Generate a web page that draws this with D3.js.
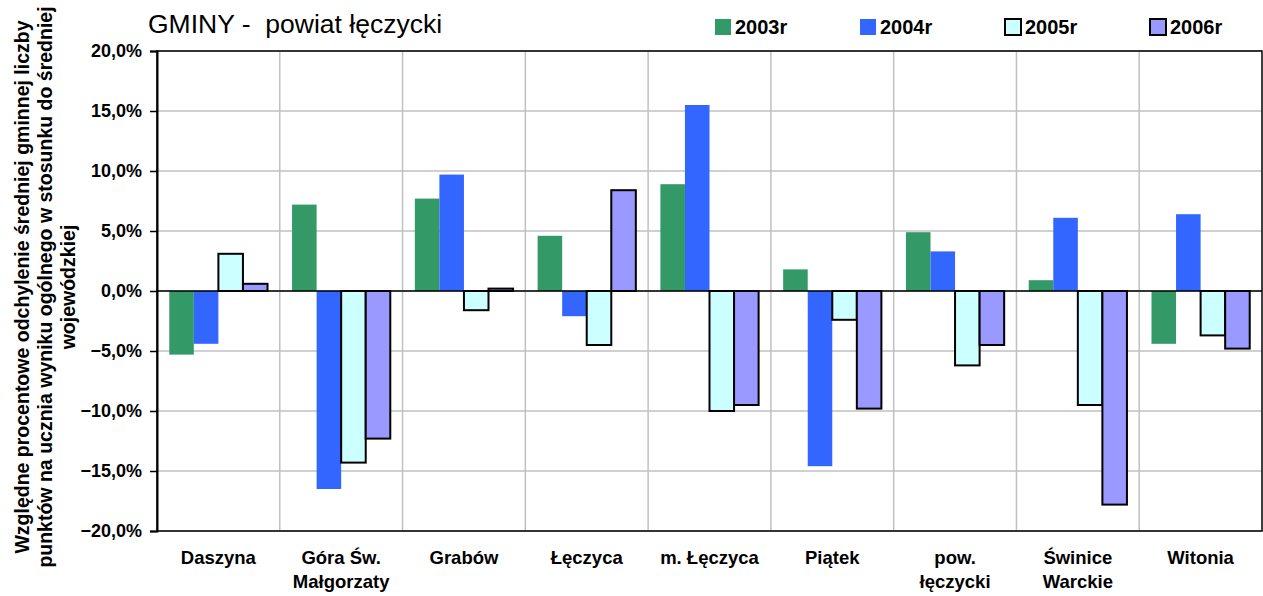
<!DOCTYPE html>
<html>
<head>
<meta charset="utf-8">
<script src="https://cdn.jsdelivr.net/npm/d3@7"></script>
<style>
  body { margin: 0; background: #fff; }
  text { font-family: "Liberation Sans", Arial, sans-serif; }
</style>
</head>
<body>
<div id="plot"></div>
<script>
// data
const categories = ["Daszyna", "Góra Św.\nMałgorzaty", "Grabów", "Łęczyca", "m. Łęczyca",
    "Piątek", "pow.\nłęczycki", "Świnice\nWarckie", "Witonia"];
const series = ["2003r", "2004r", "2005r", "2006r"];
const v2003 = [-5.3, 7.2, 7.7, 4.6, 8.9, 1.8, 4.9, 0.9, -4.4];
const v2004 = [-4.4, -16.5, 9.7, -2.1, 15.5, -14.6, 3.3, 6.1, 6.4];
const v2005 = [3.1, -14.3, -1.6, -4.5, -10.0, -2.4, -6.2, -9.5, -3.7];
const v2006 = [0.6, -12.3, 0.2, 8.4, -9.5, -9.8, -4.5, -17.8, -4.8];
const yTicks = [-20, -15, -10, -5, 0, 5, 10, 15, 20];
const colors = ["#339966", "#3366ff", "#ccffff", "#9999ff"];
const outlined = [false, false, true, true];

const w = 1263;
const h = 596;
const margin = {top: 51, right: 1, bottom: 65, left: 157};

const values = [v2003, v2004, v2005, v2006];

const svg = d3.select("div#plot")
    .append("svg")
    .attr("width", w)
    .attr("height", h);

const xScale = d3.scaleBand()
    .domain(categories)
    .range([margin.left, w - margin.right]);

const xInner = d3.scaleBand()
    .domain(series)
    .range([0, xScale.bandwidth()])
    .paddingInner(0)
    .paddingOuter(0.5);

const yScale = d3.scaleLinear()
    .domain([-20, 20])
    .range([h - margin.bottom, margin.top]);

// grid
const grid = svg.append("g");
grid.selectAll("line.h")
    .data(yTicks)
  .enter().append("line")
    .attr("x1", margin.left)
    .attr("x2", w - margin.right)
    .attr("y1", d => yScale(d))
    .attr("y2", d => yScale(d))
    .attr("stroke", "#c0c0c0")
    .attr("stroke-width", 1.5);
grid.selectAll("line.v")
    .data(categories.slice(1))
  .enter().append("line")
    .attr("x1", d => xScale(d))
    .attr("x2", d => xScale(d))
    .attr("y1", margin.top)
    .attr("y2", h - margin.bottom)
    .attr("stroke", "#c0c0c0")
    .attr("stroke-width", 1.5);

// bars
series.forEach((s, si) => {
  svg.append("g")
    .selectAll("rect")
    .data(values[si])
    .enter().append("rect")
      .attr("x", (d, i) => xScale(categories[i]) + xInner(s))
      .attr("y", d => yScale(Math.max(0, d)))
      .attr("width", xInner.bandwidth())
      .attr("height", d => Math.abs(yScale(d) - yScale(0)))
      .attr("fill", colors[si])
      .attr("stroke", outlined[si] ? "#000" : "none")
      .attr("stroke-width", 2);
});

// zero line and frame
svg.append("line")
    .attr("x1", margin.left)
    .attr("x2", w - margin.right)
    .attr("y1", yScale(0))
    .attr("y2", yScale(0))
    .attr("stroke", "#000")
    .attr("stroke-width", 1.5);

svg.append("rect")
    .attr("x", margin.left)
    .attr("y", margin.top)
    .attr("width", w - margin.left - margin.right)
    .attr("height", h - margin.top - margin.bottom)
    .attr("fill", "none")
    .attr("stroke", "#000")
    .attr("stroke-width", 1.5);

// y axis
const yAxis = d3.axisLeft(yScale)
    .tickValues(yTicks)
    .tickSize(7)
    .tickPadding(8)
    .tickFormat(d => d3.format(".1f")(d).replace(".", ",") + "%");

svg.append("g")
    .attr("class", "yAxis")
    .attr("transform", `translate(${margin.left},0)`)
    .call(yAxis)
    .call(g => g.select(".domain").attr("stroke-width", 2))
    .call(g => g.selectAll(".tick line").attr("stroke-width", 1.5))
    .call(g => g.selectAll("text")
        .attr("font-family", "Liberation Sans, Arial, sans-serif")
        .attr("font-size", 18)
        .attr("font-weight", "bold")
        .attr("fill", "#000"));

// category labels
const catLabels = svg.append("g")
  .selectAll("text")
    .data(categories)
  .enter().append("text")
    .attr("x", d => xScale(d) + xScale.bandwidth() / 2)
    .attr("y", 564)
    .attr("text-anchor", "middle")
    .attr("font-size", 18.5)
    .attr("font-weight", "bold");
catLabels.selectAll("tspan")
    .data(d => d.split("\n"))
  .enter().append("tspan")
    .attr("x", function() { return d3.select(this.parentNode).attr("x"); })
    .attr("dy", (d, i) => i === 0 ? 0 : 24)
    .text(d => d);

// y axis title
const yTitle = ["Względne procentowe odchylenie średniej gminnej liczby",
    "punktów na ucznia wyniku ogólnego w stosunku do średniej",
    "wojewódzkiej"];
svg.append("g")
  .selectAll("text")
    .data(yTitle)
  .enter().append("text")
    .attr("transform", (d, i) => `translate(${29 + i * 23},287) rotate(-90)`)
    .attr("text-anchor", "middle")
    .attr("font-size", 19.5)
    .attr("font-weight", "bold")
    .text(d => d);

// title
svg.append("text")
    .attr("x", 148)
    .attr("y", 33)
    .attr("font-size", 26.5)
    .text("GMINY -  powiat łęczycki")
    .style("white-space", "pre");

// legend
const legend = svg.append("g")
  .selectAll("g")
    .data(series)
  .enter().append("g")
    .attr("transform", (d, i) => `translate(${715 + i * 145},19)`);
legend.append("rect")
    .attr("width", 16)
    .attr("height", 16)
    .attr("fill", (d, i) => colors[i])
    .attr("stroke", (d, i) => outlined[i] ? "#000" : "none")
    .attr("stroke-width", 2);
legend.append("text")
    .attr("x", 20)
    .attr("y", 15)
    .attr("font-size", 20)
    .attr("font-weight", "bold")
    .text(d => d);
</script>
</body>
</html>
